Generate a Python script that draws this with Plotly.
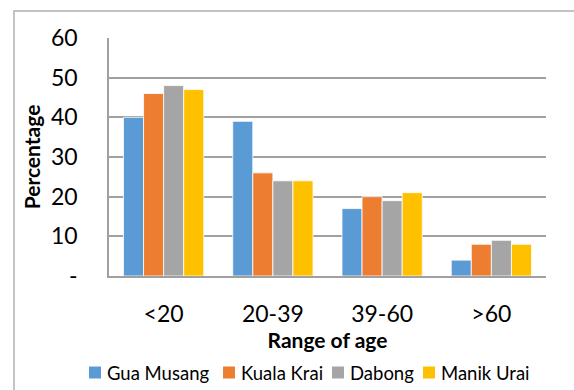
import plotly.graph_objects as go

age_ranges = ["<20", "20-39", "39-60", ">60"]
gua_musang = [40, 39, 17, 4]
kuala_krai = [46, 26, 20, 8]
dabong = [48, 24, 19, 9]
manik_urai = [47, 24, 21, 8]

series = [
    ("Gua Musang", gua_musang, "#5B9BD5"),
    ("Kuala Krai", kuala_krai, "#ED7D31"),
    ("Dabong", dabong, "#A5A5A5"),
    ("Manik Urai", manik_urai, "#FFC000"),
]

y_ticks = [0, 10, 20, 30, 40, 50, 60]
y_tick_text = ["-", "10", "20", "30", "40", "50", "60"]

FONT = "Lato"
W, H = 574, 390
ML, MR, MT, MB = 109, 28, 38, 114
PW, PH = W - ML - MR, H - MT - MB


def px_to_paper_x(px):
    return (px - ML) / PW


def px_to_paper_y(py):
    return (H - MB - py) / PH


fig = go.Figure()
for name, values, color in series:
    fig.add_trace(go.Bar(
        name=name, x=age_ranges, y=values,
        marker=dict(color=color, line=dict(color="white", width=0.8)),
        showlegend=False,
    ))

# Legend row drawn below the axis title: colour square + label per series
legend_left_px = [89, 223, 332, 423]
legend_mid_py = 372.5
sq = 12
shapes = [dict(
    type="rect", xref="paper", yref="paper",
    x0=-0.2174, x1=1.3, y0=-0.7, y1=1.1134,
    line=dict(color="#B0B0B0", width=1.5), fillcolor="rgba(0,0,0,0)",
    layer="below",
)]
annotations = []
for (name, _, color), left in zip(series, legend_left_px):
    shapes.append(dict(
        type="rect", xref="paper", yref="paper",
        x0=px_to_paper_x(left), x1=px_to_paper_x(left + sq),
        y0=px_to_paper_y(legend_mid_py + sq / 2), y1=px_to_paper_y(legend_mid_py - sq / 2),
        line=dict(width=0), fillcolor=color,
    ))
    annotations.append(dict(
        text=name, xref="paper", yref="paper",
        x=px_to_paper_x(left + sq + 4), y=px_to_paper_y(legend_mid_py),
        xanchor="left", yanchor="middle", showarrow=False,
        font=dict(size=18.5, family=FONT, color="black"),
    ))

fig.update_layout(
    width=W, height=H,
    margin=dict(l=ML, r=MR, t=MT, b=MB, autoexpand=False),
    paper_bgcolor="white", plot_bgcolor="white",
    barmode="group", bargap=0.265, bargroupgap=0,
    font=dict(family=FONT, color="black"),
    showlegend=False,
    xaxis=dict(
        showgrid=False, showline=True, linecolor="#A0A0A0", linewidth=1.5,
        ticks="", tickfont=dict(size=23), ticklabelstandoff=17,
        title=dict(text="<b>Range of age</b>", font=dict(size=21), standoff=3),
    ),
    yaxis=dict(
        range=[0, 60], tickvals=y_ticks, ticktext=y_tick_text,
        showgrid=True, gridcolor="#A0A0A0", gridwidth=1.5,
        showline=True, linecolor="#A0A0A0", linewidth=1.5,
        zeroline=False, ticks="", tickfont=dict(size=23), ticklabelstandoff=25,
        title=dict(text="<b>Percentage</b>", font=dict(size=21), standoff=5),
    ),
    shapes=shapes,
    annotations=annotations,
)

fig.write_html("out.html")
